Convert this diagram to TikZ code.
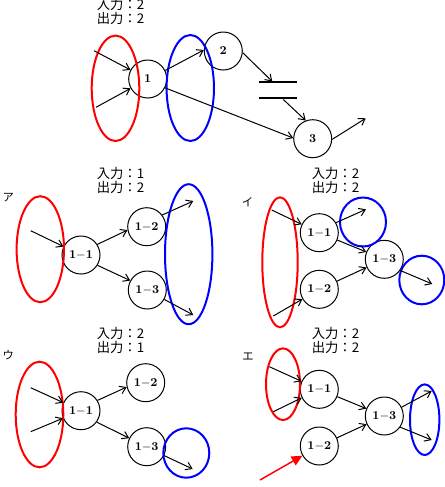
\documentclass[tikz,border=0pt]{standalone}
\usepackage{fontspec}
\newfontfamily\jp{Noto Sans CJK JP}
\usetikzlibrary{arrows.meta}
\begin{document}
\begin{tikzpicture}[x=0.75pt,y=-0.75pt,
  arr/.style={draw=black,line width=0.75pt,-{Straight Barb[length=4.5pt,width=6pt]}},
  nd/.style={circle,draw=black,line width=0.75pt,minimum size=28.5pt,inner sep=0pt,font=\fontsize{9}{10}\selectfont\bfseries},
  lbl/.style={anchor=north west,inner sep=0pt,align=left,font=\jp\fontsize{10}{10.5}\selectfont},
  kana/.style={inner sep=0pt,font=\jp\fontsize{8.5}{9}\selectfont},
  redring/.style={draw=red,line width=1.5pt},
  bluering/.style={draw=blue,line width=1.5pt},
  gapline/.style={draw=black,line width=1.5pt}]
\useasboundingbox[fill=white] (0,0) rectangle (445,487);

% ---------- top ----------
\node[lbl] (ttop) at (96.5,-1.5) {入力：2\\出力：2};
\node[nd] (t1) at (147.7,79) {1};
\node[nd] (t2) at (223.3,51) {2};
\node[nd] (t3) at (312.7,138.7) {3};
\draw[redring] (115.5,88.3) ellipse [x radius=23.8, y radius=52.7];
\draw[bluering] (190.3,88) ellipse [x radius=23.7, y radius=53];
\coordinate (tin1) at (94,50.7);
\coordinate (tin2) at (96,107.3);
\coordinate (tgapa) at (272.3,81.5);
\coordinate (tgapb) at (283.3,99.5);
\coordinate (tout) at (365.7,118.3);
\coordinate (gl1a) at (259,82.3); \coordinate (gl1b) at (297.3,82.3);
\coordinate (gl2a) at (259,98.3); \coordinate (gl2b) at (297.3,98.3);
\draw[gapline] (gl1a) -- (gl1b);
\draw[gapline] (gl2a) -- (gl2b);
\draw[arr] (tin1) -- (t1);
\draw[arr] (tin2) -- (t1);
\draw[arr] (t1.26) -- (t2.177);
\draw[arr] (t1.-27) -- (t3.178);
\draw[arr] (t2.-5) -- (tgapa);
\draw[arr] (tgapb) -- (t3.111);
\draw[arr] (t3.-2) -- (tout);

% ---------- panel A ----------
\node[kana] (ka) at (8.3,198) {ア};
\node[lbl] (ta) at (96.5,167.5) {入力：1\\出力：2};
\node[nd] (a11) at (81,255) {1$-$1};
\node[nd] (a12) at (146.7,226.7) {1$-$2};
\node[nd] (a13) at (147.3,290) {1$-$3};
\draw[redring] (40.3,249.2) ellipse [x radius=23.7, y radius=53];
\draw[bluering] (188.7,254.2) ellipse [x radius=23.7, y radius=70];
\coordinate (ain) at (30.7,230.7);
\coordinate (aout1) at (193.3,201);
\coordinate (aout2) at (193.3,315);
\draw[arr] (ain) -- (a11);
\draw[arr] (a11.33) -- (a12.190);
\draw[arr] (a11.-32) -- (a13.151);
\draw[arr] (a12.37) -- (aout1);
\draw[arr] (a13.-29) -- (aout2);

% ---------- panel I ----------
\node[kana] (ki) at (247.5,202.5) {イ};
\node[lbl] (tb) at (311.5,167.5) {入力：2\\出力：2};
\node[nd] (b11) at (319.3,232.7) {1$-$1};
\node[nd] (b12) at (319.3,289.3) {1$-$2};
\node[nd] (b13) at (384.3,259.3) {1$-$3};
\draw[redring] (280,262.3) ellipse [x radius=17.7, y radius=65];
\draw[bluering] (363,222) ellipse [x radius=23, y radius=24.5];
\draw[bluering] (421.8,280) ellipse [x radius=22.5, y radius=24.3];
\coordinate (bin1) at (271.7,210);
\coordinate (bin2) at (273.3,316);
\coordinate (bout1) at (366,209.3);
\coordinate (bout2) at (432.3,284);
\draw[arr] (bin1) -- (b11);
\draw[arr] (bin2) -- (b12);
\draw[arr] (b11.31) -- (bout1);
\draw[arr] (b11) -- (b13);
\draw[arr] (b12) -- (b13);
\draw[arr] (b13.-35) -- (bout2);

% ---------- panel U ----------
\node[kana] (ku) at (8.3,355) {ウ};
\node[lbl] (tc) at (96.5,327.5) {入力：2\\出力：1};
\node[nd] (c11) at (81,410.7) {1$-$1};
\node[nd] (c12) at (145.7,382.7) {1$-$2};
\node[nd] (c13) at (146.7,446.7) {1$-$3};
\draw[redring] (39.5,414.5) ellipse [x radius=23.8, y radius=52.8];
\draw[bluering] (186.3,453) ellipse [x radius=23, y radius=24.7];
\coordinate (cin1) at (30.7,387.7);
\coordinate (cin2) at (30.7,431.7);
\coordinate (cout) at (192.7,469);
\draw[arr] (cin1) -- (c11);
\draw[arr] (cin2) -- (c11);
\draw[arr] (c11.32) -- (c12.193);
\draw[arr] (c11.-36) -- (c13.154);
\draw[arr] (c13.-27) -- (cout);

% ---------- panel E ----------
\node[kana] (ke) at (248,356.7) {エ};
\node[lbl] (td) at (311.5,327.5) {入力：2\\出力：2};
\node[nd] (d11) at (319.3,389.3) {1$-$1};
\node[nd] (d12) at (319.3,446) {1$-$2};
\node[nd] (d13) at (384.3,416) {1$-$3};
\draw[redring] (283,384.2) ellipse [x radius=17, y radius=35.8];
\draw[bluering] (424.7,419.7) ellipse [x radius=14.7, y radius=35.3];
\coordinate (din1) at (269.3,366.7);
\coordinate (din2) at (273.3,411.7);
\coordinate (dout1) at (431.7,391);
\coordinate (dout2) at (431.7,440);
\coordinate (dred) at (260,480);
\draw[arr] (din1) -- (d11);
\draw[arr] (din2) -- (d11);
\draw[arr] (d11) -- (d13);
\draw[arr] (d12) -- (d13);
\draw[arr] (d13.27) -- (dout1);
\draw[arr] (d13.-35) -- (dout2);
\draw[draw=red,line width=1.1pt,-{Triangle[length=8pt,width=7.5pt]}] (dred) -- (d12);
\end{tikzpicture}
\end{document}
